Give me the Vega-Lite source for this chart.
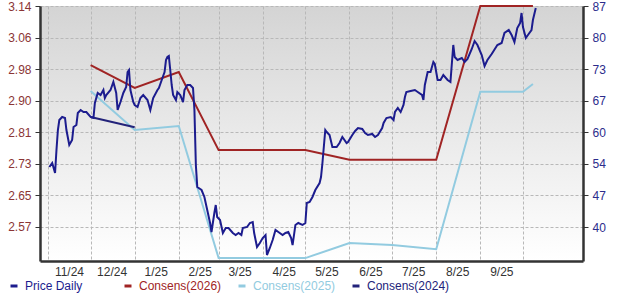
{
  "$schema": "https://vega.github.io/schema/vega-lite/v6.json",
  "width": 543,
  "height": 255,
  "autosize": {"type": "none"},
  "padding": {"left": 40, "top": 6, "right": 37, "bottom": 36},
  "background": "#ffffff",
  "config": {
    "view": {"stroke": null, "fill": {"gradient": "linear", "x1": 0, "y1": 0, "x2": 0, "y2": 1, "stops": [{"offset": 0, "color": "#d4d4d4"}, {"offset": 0.6, "color": "#eeeeee"}, {"offset": 1, "color": "#ffffff"}]}},
    "axis": {"labelFont": "Liberation Sans", "labelFontSize": 12, "domainColor": "#333333", "domainWidth": 2.5, "tickColor": "#333333", "gridColor": "#b8b8b8", "gridDash": [3, 2], "gridWidth": 1, "title": null}
  },
  "datasets": {
    "cons": [
      {"date": "2024-12-01", "series": "Consens(2026)", "value": 2.988},
      {"date": "2025-01-01", "series": "Consens(2026)", "value": 2.929},
      {"date": "2025-02-01", "series": "Consens(2026)", "value": 2.970},
      {"date": "2025-03-01", "series": "Consens(2026)", "value": 2.769},
      {"date": "2025-04-01", "series": "Consens(2026)", "value": 2.769},
      {"date": "2025-05-01", "series": "Consens(2026)", "value": 2.769},
      {"date": "2025-06-01", "series": "Consens(2026)", "value": 2.744},
      {"date": "2025-07-01", "series": "Consens(2026)", "value": 2.744},
      {"date": "2025-08-01", "series": "Consens(2026)", "value": 2.744},
      {"date": "2025-09-01", "series": "Consens(2026)", "value": 3.14},
      {"date": "2025-10-01", "series": "Consens(2026)", "value": 3.14},
      {"date": "2025-10-08", "series": "Consens(2026)", "value": 3.14},
      {"date": "2024-12-01", "series": "Consens(2025)", "value": 2.921},
      {"date": "2025-01-01", "series": "Consens(2025)", "value": 2.821},
      {"date": "2025-02-01", "series": "Consens(2025)", "value": 2.831},
      {"date": "2025-03-01", "series": "Consens(2025)", "value": 2.491},
      {"date": "2025-04-01", "series": "Consens(2025)", "value": 2.491},
      {"date": "2025-05-01", "series": "Consens(2025)", "value": 2.491},
      {"date": "2025-06-01", "series": "Consens(2025)", "value": 2.530},
      {"date": "2025-07-01", "series": "Consens(2025)", "value": 2.525},
      {"date": "2025-08-01", "series": "Consens(2025)", "value": 2.514},
      {"date": "2025-09-01", "series": "Consens(2025)", "value": 2.919},
      {"date": "2025-10-01", "series": "Consens(2025)", "value": 2.919},
      {"date": "2025-10-08", "series": "Consens(2025)", "value": 2.939},
      {"date": "2024-12-01", "series": "Consens(2024)", "value": 2.854},
      {"date": "2025-01-01", "series": "Consens(2024)", "value": 2.828}
    ],
    "price": [
      {"date": "2024-11-02", "price": 52.95},
      {"date": "2024-11-04", "price": 53.78},
      {"date": "2024-11-06", "price": 51.69},
      {"date": "2024-11-07", "price": 56.50},
      {"date": "2024-11-08", "price": 60.68},
      {"date": "2024-11-09", "price": 62.77},
      {"date": "2024-11-11", "price": 63.40},
      {"date": "2024-11-13", "price": 63.19},
      {"date": "2024-11-14", "price": 60.68},
      {"date": "2024-11-16", "price": 57.55},
      {"date": "2024-11-18", "price": 58.59},
      {"date": "2024-11-19", "price": 61.31},
      {"date": "2024-11-21", "price": 61.73},
      {"date": "2024-11-22", "price": 64.23},
      {"date": "2024-11-24", "price": 64.86},
      {"date": "2024-11-26", "price": 64.44},
      {"date": "2024-11-28", "price": 64.44},
      {"date": "2024-12-01", "price": 63.40},
      {"date": "2024-12-03", "price": 63.19},
      {"date": "2024-12-04", "price": 66.33},
      {"date": "2024-12-06", "price": 68.42},
      {"date": "2024-12-08", "price": 68.00},
      {"date": "2024-12-10", "price": 69.04},
      {"date": "2024-12-11", "price": 67.37},
      {"date": "2024-12-12", "price": 68.00},
      {"date": "2024-12-15", "price": 69.04},
      {"date": "2024-12-17", "price": 70.71},
      {"date": "2024-12-19", "price": 68.42},
      {"date": "2024-12-20", "price": 64.86},
      {"date": "2024-12-22", "price": 66.53},
      {"date": "2024-12-24", "price": 68.42},
      {"date": "2024-12-26", "price": 69.67},
      {"date": "2024-12-27", "price": 72.80},
      {"date": "2024-12-28", "price": 73.22},
      {"date": "2024-12-29", "price": 69.04},
      {"date": "2024-12-31", "price": 66.53},
      {"date": "2025-01-01", "price": 65.91},
      {"date": "2025-01-03", "price": 65.49},
      {"date": "2025-01-05", "price": 67.37},
      {"date": "2025-01-07", "price": 68.00},
      {"date": "2025-01-10", "price": 66.95},
      {"date": "2025-01-12", "price": 64.86},
      {"date": "2025-01-14", "price": 67.37},
      {"date": "2025-01-17", "price": 69.04},
      {"date": "2025-01-18", "price": 69.46},
      {"date": "2025-01-20", "price": 71.13},
      {"date": "2025-01-22", "price": 72.80},
      {"date": "2025-01-23", "price": 75.31},
      {"date": "2025-01-24", "price": 75.94},
      {"date": "2025-01-25", "price": 76.15},
      {"date": "2025-01-26", "price": 73.22},
      {"date": "2025-01-27", "price": 70.09},
      {"date": "2025-01-28", "price": 68.00},
      {"date": "2025-01-30", "price": 66.95},
      {"date": "2025-01-31", "price": 68.62},
      {"date": "2025-02-02", "price": 68.00},
      {"date": "2025-02-04", "price": 66.53},
      {"date": "2025-02-05", "price": 69.04},
      {"date": "2025-02-07", "price": 70.09},
      {"date": "2025-02-09", "price": 70.09},
      {"date": "2025-02-11", "price": 69.46},
      {"date": "2025-02-12", "price": 64.86},
      {"date": "2025-02-13", "price": 53.37},
      {"date": "2025-02-14", "price": 48.77},
      {"date": "2025-02-15", "price": 48.56},
      {"date": "2025-02-17", "price": 48.14},
      {"date": "2025-02-19", "price": 46.68},
      {"date": "2025-02-21", "price": 43.96},
      {"date": "2025-02-23", "price": 41.24},
      {"date": "2025-02-24", "price": 39.36},
      {"date": "2025-02-26", "price": 43.33},
      {"date": "2025-02-27", "price": 45.00},
      {"date": "2025-02-28", "price": 42.50},
      {"date": "2025-03-02", "price": 41.87},
      {"date": "2025-03-04", "price": 39.15},
      {"date": "2025-03-06", "price": 40.20},
      {"date": "2025-03-08", "price": 40.20},
      {"date": "2025-03-11", "price": 39.15},
      {"date": "2025-03-13", "price": 38.73},
      {"date": "2025-03-15", "price": 39.15},
      {"date": "2025-03-17", "price": 38.73},
      {"date": "2025-03-18", "price": 40.20},
      {"date": "2025-03-21", "price": 40.41},
      {"date": "2025-03-23", "price": 41.24},
      {"date": "2025-03-25", "price": 41.45},
      {"date": "2025-03-26", "price": 39.15},
      {"date": "2025-03-28", "price": 36.23},
      {"date": "2025-03-30", "price": 37.06},
      {"date": "2025-04-01", "price": 38.10},
      {"date": "2025-04-03", "price": 38.73},
      {"date": "2025-04-04", "price": 34.55},
      {"date": "2025-04-06", "price": 36.02},
      {"date": "2025-04-08", "price": 37.69},
      {"date": "2025-04-10", "price": 39.78},
      {"date": "2025-04-12", "price": 39.36},
      {"date": "2025-04-15", "price": 38.73},
      {"date": "2025-04-17", "price": 39.15},
      {"date": "2025-04-19", "price": 39.36},
      {"date": "2025-04-21", "price": 38.10},
      {"date": "2025-04-22", "price": 36.64},
      {"date": "2025-04-24", "price": 40.83},
      {"date": "2025-04-26", "price": 41.24},
      {"date": "2025-04-29", "price": 40.83},
      {"date": "2025-05-01", "price": 41.24},
      {"date": "2025-05-02", "price": 45.42},
      {"date": "2025-05-04", "price": 45.63},
      {"date": "2025-05-06", "price": 46.68},
      {"date": "2025-05-08", "price": 48.14},
      {"date": "2025-05-11", "price": 49.60},
      {"date": "2025-05-12", "price": 50.86},
      {"date": "2025-05-13", "price": 53.78},
      {"date": "2025-05-15", "price": 60.68},
      {"date": "2025-05-16", "price": 60.26},
      {"date": "2025-05-18", "price": 59.64},
      {"date": "2025-05-20", "price": 57.13},
      {"date": "2025-05-23", "price": 57.13},
      {"date": "2025-05-25", "price": 57.96},
      {"date": "2025-05-27", "price": 59.22},
      {"date": "2025-05-30", "price": 57.96},
      {"date": "2025-05-31", "price": 58.17},
      {"date": "2025-06-03", "price": 59.64},
      {"date": "2025-06-05", "price": 60.47},
      {"date": "2025-06-07", "price": 61.10},
      {"date": "2025-06-10", "price": 60.89},
      {"date": "2025-06-12", "price": 60.05},
      {"date": "2025-06-14", "price": 59.64},
      {"date": "2025-06-17", "price": 59.85},
      {"date": "2025-06-19", "price": 59.22},
      {"date": "2025-06-21", "price": 59.64},
      {"date": "2025-06-24", "price": 61.10},
      {"date": "2025-06-25", "price": 62.15},
      {"date": "2025-06-27", "price": 63.19},
      {"date": "2025-06-30", "price": 63.40},
      {"date": "2025-07-02", "price": 62.77},
      {"date": "2025-07-03", "price": 64.44},
      {"date": "2025-07-05", "price": 65.28},
      {"date": "2025-07-07", "price": 64.44},
      {"date": "2025-07-09", "price": 65.91},
      {"date": "2025-07-10", "price": 67.58},
      {"date": "2025-07-11", "price": 68.62},
      {"date": "2025-07-14", "price": 68.83},
      {"date": "2025-07-17", "price": 69.04},
      {"date": "2025-07-19", "price": 68.62},
      {"date": "2025-07-22", "price": 68.00},
      {"date": "2025-07-23", "price": 66.95},
      {"date": "2025-07-24", "price": 70.09},
      {"date": "2025-07-26", "price": 72.80},
      {"date": "2025-07-28", "price": 72.80},
      {"date": "2025-07-30", "price": 74.89},
      {"date": "2025-07-31", "price": 74.48},
      {"date": "2025-08-02", "price": 71.13},
      {"date": "2025-08-04", "price": 71.13},
      {"date": "2025-08-06", "price": 72.18},
      {"date": "2025-08-09", "price": 71.13},
      {"date": "2025-08-11", "price": 70.71},
      {"date": "2025-08-13", "price": 78.45},
      {"date": "2025-08-14", "price": 75.94},
      {"date": "2025-08-16", "price": 75.31},
      {"date": "2025-08-19", "price": 75.73},
      {"date": "2025-08-21", "price": 74.89},
      {"date": "2025-08-23", "price": 75.52},
      {"date": "2025-08-26", "price": 77.61},
      {"date": "2025-08-28", "price": 79.28},
      {"date": "2025-08-30", "price": 78.45},
      {"date": "2025-09-02", "price": 76.36},
      {"date": "2025-09-04", "price": 74.06},
      {"date": "2025-09-06", "price": 75.31},
      {"date": "2025-09-09", "price": 76.57},
      {"date": "2025-09-13", "price": 78.45},
      {"date": "2025-09-16", "price": 78.87},
      {"date": "2025-09-18", "price": 80.96},
      {"date": "2025-09-21", "price": 81.58},
      {"date": "2025-09-23", "price": 80.54},
      {"date": "2025-09-25", "price": 79.08},
      {"date": "2025-09-27", "price": 82.00},
      {"date": "2025-09-29", "price": 83.05},
      {"date": "2025-09-30", "price": 85.14},
      {"date": "2025-10-01", "price": 82.21},
      {"date": "2025-10-03", "price": 79.91},
      {"date": "2025-10-05", "price": 80.75},
      {"date": "2025-10-07", "price": 81.58},
      {"date": "2025-10-08", "price": 83.67},
      {"date": "2025-10-10", "price": 86.18}
    ]
  },
  "layer": [
    {
      "data": {"name": "cons"},
      "mark": {"type": "line", "strokeWidth": 2},
      "encoding": {
        "x": {
          "field": "date", "type": "temporal",
          "scale": {"type": "utc", "domain": [{"year": 2024, "month": 10, "date": 26, "hours": 10, "utc": true}, {"year": 2025, "month": 11, "date": 12, "hours": 5, "utc": true}]},
          "axis": {
            "values": [
              {"year": 2024, "month": 11, "date": 1, "utc": true},
              {"year": 2024, "month": 12, "date": 1, "utc": true},
              {"year": 2025, "month": 1, "date": 1, "utc": true},
              {"year": 2025, "month": 2, "date": 1, "utc": true},
              {"year": 2025, "month": 3, "date": 1, "utc": true},
              {"year": 2025, "month": 4, "date": 1, "utc": true},
              {"year": 2025, "month": 5, "date": 1, "utc": true},
              {"year": 2025, "month": 6, "date": 1, "utc": true},
              {"year": 2025, "month": 7, "date": 1, "utc": true},
              {"year": 2025, "month": 8, "date": 1, "utc": true},
              {"year": 2025, "month": 9, "date": 1, "utc": true},
              {"year": 2025, "month": 10, "date": 1, "utc": true}
            ],
            "labelExpr": "utcmonth(datum.value) == 9 ? '' : utcFormat(datum.value, '%-m/%y')",
            "grid": true, "ticks": false, "labelOffset": 21, "labelPadding": 5,
            "labelColor": "#333333", "labelFlush": false, "labelOverlap": false
          }
        },
        "y": {
          "field": "value", "type": "quantitative",
          "scale": {"domain": [2.4835, 3.14], "zero": false, "nice": false},
          "axis": {
            "values": [3.14, 3.0588, 2.9776, 2.8963, 2.8149, 2.7338, 2.6524, 2.5712],
            "format": ".2f", "grid": true, "tickSize": 5, "labelPadding": 4,
            "labelColor": "#8b3535"
          }
        },
        "color": {
          "field": "series", "type": "nominal",
          "scale": {"domain": ["Price Daily", "Consens(2026)", "Consens(2025)", "Consens(2024)"], "range": ["#1c1c8e", "#a02424", "#92cbe0", "#23237a"]},
          "legend": {
            "title": null, "orient": "none", "legendX": -32, "legendY": 274,
            "direction": "horizontal", "columns": 4, "gridAlign": "all", "columnPadding": 10,
            "symbolType": "stroke", "symbolSize": 49, "symbolStrokeWidth": 3,
            "labelFont": "Liberation Sans", "labelFontSize": 12, "labelOffset": 5, "padding": 0,
            "encode": {"labels": {"update": {"fill": {"scale": "color", "field": "value"}}}}
          }
        }
      }
    },
    {
      "data": {"name": "price"},
      "mark": {"type": "line", "strokeWidth": 2},
      "encoding": {
        "x": {"field": "date", "type": "temporal"},
        "y": {
          "field": "price", "type": "quantitative",
          "scale": {"domain": [33.3, 86.6], "zero": false, "nice": false},
          "axis": {
            "orient": "right",
            "values": [86.6, 80, 73.4, 66.8, 60.2, 53.6, 47, 40.4],
            "format": ".0f", "grid": false, "tickSize": 5, "labelPadding": 4,
            "labelColor": "#2c2c8c"
          }
        },
        "color": {"datum": "Price Daily", "type": "nominal"}
      }
    }
  ],
  "resolve": {"scale": {"y": "independent"}}
}
